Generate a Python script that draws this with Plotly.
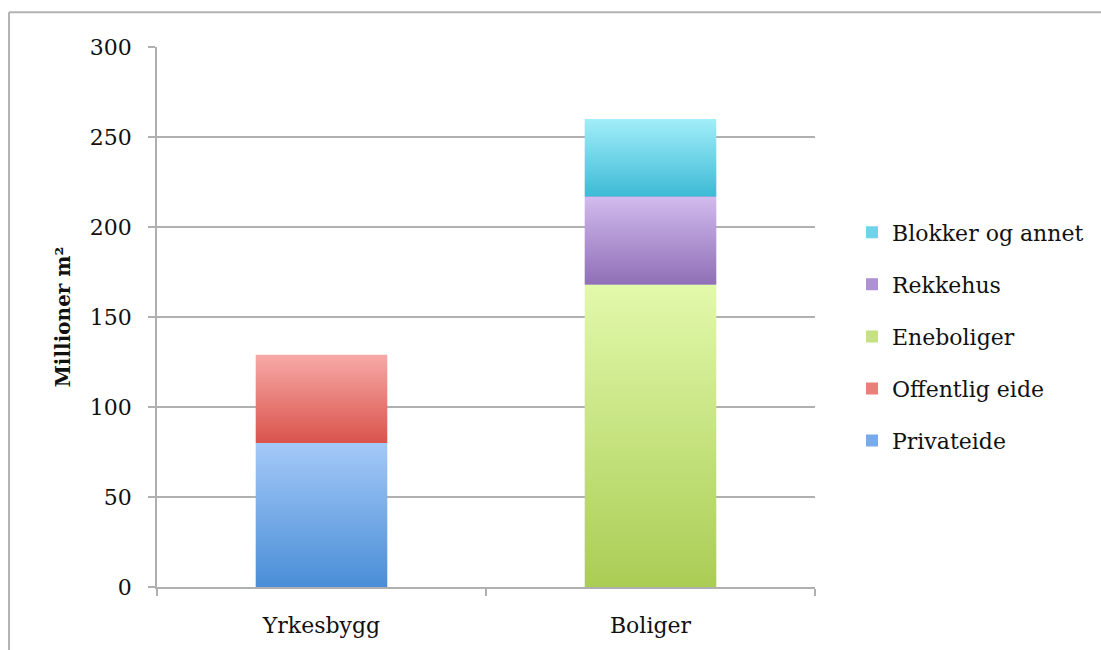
import plotly.graph_objects as go

# Floor area by building type (million m²)
categories = ["Yrkesbygg", "Boliger"]
series_names = ["Privateide", "Offentlig eide", "Eneboliger", "Rekkehus", "Blokker og annet"]
privateide = [80, None]
offentlig_eide = [49, None]
eneboliger = [None, 168]
rekkehus = [None, 49]
blokker_og_annet = [None, 43]
y_ticks = [0, 50, 100, 150, 200, 250, 300]

series_values = [privateide, offentlig_eide, eneboliger, rekkehus, blokker_og_annet]
# (bottom colour, top colour, legend swatch colour)
palette = [
    ("#4a8ed7", "#a4c9f8", "#78abe9"),
    ("#d9544b", "#f7a9a7", "#e9807a"),
    ("#aacd55", "#e2f9ab", "#c5e184"),
    ("#8f6fb6", "#d2bbee", "#af92d4"),
    ("#3dbad6", "#a2eef9", "#6fd3e9"),
]

W, H = 1101, 650
ML, MR, MT, MB = 157, 286, 47, 60
PW, PH = W - ML - MR, H - MT - MB
FONT = "DejaVu Serif"
GRID = "#b0b0b0"
BAR_W = 0.4

fig = go.Figure()
x_pos = list(range(len(categories)))
n_series = len(series_names)

# stacked bars (legend + solid base); legend lists the top segment first
for k, (name, vals, (c0, c1, cm)) in enumerate(zip(series_names, series_values, palette)):
    fig.add_trace(go.Bar(
        x=x_pos, y=vals, name=name, width=BAR_W,
        marker=dict(color=cm, line=dict(width=0)),
        legendgroup=name, legendrank=100 + (n_series - k),
    ))

# vertical gradient shading over each stacked segment
base = [0] * len(categories)
for name, vals, (c0, c1, cm) in zip(series_names, series_values, palette):
    for i, v in enumerate(vals):
        if v is None:
            continue
        x0, x1 = x_pos[i] - BAR_W / 2, x_pos[i] + BAR_W / 2
        y0, y1 = base[i], base[i] + v
        fig.add_trace(go.Scatter(
            x=[x0, x1, x1, x0, x0], y=[y0, y0, y1, y1, y0],
            mode="none", fill="toself",
            fillgradient=dict(type="vertical", colorscale=[[0, c0], [1, c1]]),
            showlegend=False, hoverinfo="skip", legendgroup=name,
        ))
        base[i] += v

# outer frame on the top and left of the figure
def px_x(px):
    return (px - ML) / PW

def px_y(py):
    return (H - MB - py) / PH

frame_col = "#b3b3b3"
fig.add_shape(type="line", xref="paper", yref="paper",
              x0=px_x(9), x1=px_x(9), y0=px_y(660), y1=px_y(12),
              line=dict(color=frame_col, width=2), layer="below")
fig.add_shape(type="line", xref="paper", yref="paper",
              x0=px_x(9), x1=px_x(1110), y0=px_y(12), y1=px_y(12),
              line=dict(color=frame_col, width=2), layer="below")

fig.update_layout(
    width=W, height=H,
    margin=dict(l=ML, r=MR, t=MT, b=MB),
    paper_bgcolor="white", plot_bgcolor="white",
    barmode="stack",
    font=dict(family=FONT, size=22, color="#111111"),
    showlegend=True,
    legend=dict(
        traceorder="grouped",
        tracegroupgap=20.5,
        x=px_x(852), xanchor="left",
        y=px_y(338), yanchor="middle",
        font=dict(family=FONT, size=22, color="#111111"),
        bgcolor="rgba(0,0,0,0)",
    ),
    xaxis=dict(
        range=[-0.5, 1.5],
        tickmode="array", tickvals=x_pos, ticktext=categories,
        ticks="", showgrid=False, zeroline=False,
        showline=True, linecolor=GRID, linewidth=1.5,
        minor=dict(tick0=0.5, dtick=1, ticks="outside", ticklen=7,
                   tickcolor=GRID, tickwidth=1.5, showgrid=False),
        ticklabelstandoff=18,
        fixedrange=True,
    ),
    yaxis=dict(
        range=[0, 300],
        tickmode="array", tickvals=y_ticks,
        ticks="outside", ticklen=7, tickcolor=GRID, tickwidth=1.5,
        showgrid=True, gridcolor=GRID, gridwidth=1.5,
        zeroline=False,
        showline=True, linecolor=GRID, linewidth=1.5,
        ticklabelstandoff=12,
        title=dict(text="<b>Millioner m²</b>", standoff=14,
                   font=dict(family=FONT, size=20, color="#111111")),
        fixedrange=True,
    ),
)

fig.write_html("out.html")
